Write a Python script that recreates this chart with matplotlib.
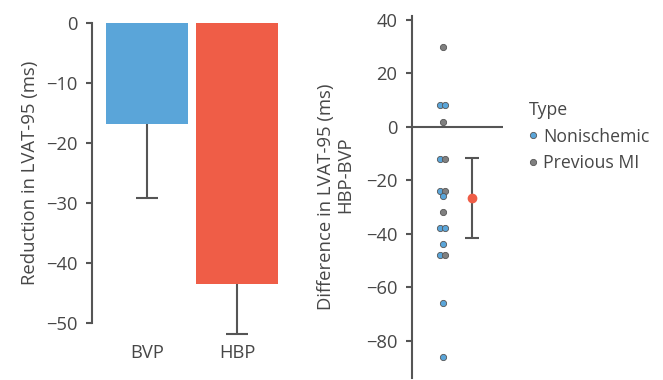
import matplotlib
matplotlib.use("Agg")
import matplotlib.pyplot as plt
from matplotlib.lines import Line2D
import numpy as np

plt.rcParams["font.family"] = ["Open Sans", "DejaVu Sans"]

# left panel: mean reduction per pacing mode
groups = ["BVP", "HBP"]
reduction = [-16.8, -43.5]
reduction_err = [12.4, 8.3]
bar_colors = ["#5aa5d9", "#ef5d47"]

# right panel: per patient difference HBP-BVP
nonischemic = [8, 8, -12, -24, -26, -38, -38, -44, -48, -66, -86]
previous_mi = [30, 2, -12, -24, -32, -48]
mean_diff = -26.5
mean_ci = 14.9

text_col = "#474747"
axis_col = "#555555"
blue = "#5aa5d9"
gray = "#808080"
red = "#ef5d47"
tick_fs = 13.2
label_fs = 13.3

fig = plt.figure(figsize=(6.63, 3.8), dpi=100)

# ---- bars
ax1 = fig.add_axes([0.1388, 0.15, 0.2866, 0.7895])
x = np.arange(len(groups))
ax1.bar(x, reduction, width=0.91, color=bar_colors, zorder=2)
for xi, v, e in zip(x, reduction, reduction_err):
    _, caps, _ = ax1.errorbar(xi, v, yerr=[[e], [0]], fmt="none", ecolor=axis_col,
                              elinewidth=1.5, capsize=8, capthick=1.5, zorder=1)
    caps[1].set_visible(False)  # no cap at the bar end
ax1.set_xlim(-0.611, 1.5)
ax1.set_ylim(-50, 0)
ax1.set_yticks([0, -10, -20, -30, -40, -50])
ax1.set_xticks(x)
ax1.set_xticklabels(groups)
ax1.set_ylabel("Reduction in LVAT-95 (ms)", color=text_col, fontsize=label_fs, labelpad=5)
for s in ["top", "right", "bottom"]:
    ax1.spines[s].set_visible(False)
ax1.spines["left"].set_color(axis_col)
ax1.spines["left"].set_linewidth(1.5)
ax1.tick_params(axis="y", colors=axis_col, labelcolor=text_col, labelsize=tick_fs,
                length=4.5, width=1.5, pad=6)
ax1.tick_params(axis="x", length=0, labelcolor=text_col, labelsize=tick_fs, pad=15)
for ln in ax1.lines + list(ax1.collections):
    ln.set_clip_on(False)

# ---- swarm of differences
ax2 = fig.add_axes([0.6214, 0.005, 0.1373, 0.953])
dx = 0.085
vals = [(v, "n") for v in nonischemic] + [(v, "p") for v in previous_mi]
for y in sorted(set(v for v, _ in vals), reverse=True):
    grp = [t for v, t in vals if v == y]
    n = len(grp)
    for i, t in enumerate(grp):
        off = (i - (n - 1) / 2) * 2 * dx
        ax2.plot(off, y, "o", ms=4.5, mfc=blue if t == "n" else gray,
                 mec="#555555", mew=0.6, zorder=3)
ax2.axhline(0, color=axis_col, lw=1.5, zorder=1)
ax2.errorbar(1, mean_diff, yerr=mean_ci, fmt="o", ms=6, color=red,
             ecolor=axis_col, elinewidth=1.5, capsize=5, capthick=1.5, zorder=3)
ax2.set_xlim(-1.05, 2.05)
ax2.set_ylim(-94, 41.5)
ax2.set_yticks([40, 20, 0, -20, -40, -60, -80])
ax2.set_xticks([])
ax2.set_ylabel("Difference in LVAT-95 (ms)", color=text_col, fontsize=label_fs, labelpad=22)
fig.text(0.5205, 0.54, "HBP-BVP", rotation=90, ha="center", va="center",
         color=text_col, fontsize=label_fs)
for s in ["top", "right", "bottom"]:
    ax2.spines[s].set_visible(False)
ax2.spines["left"].set_color(axis_col)
ax2.spines["left"].set_linewidth(1.5)
ax2.tick_params(axis="y", colors=axis_col, labelcolor=text_col, labelsize=tick_fs,
                length=4.5, width=1.5, pad=6)

handles = [
    Line2D([], [], ls="none", marker="o", ms=4.5, mfc=blue, mec="#555555", mew=0.6),
    Line2D([], [], ls="none", marker="o", ms=4.5, mfc=gray, mec="#555555", mew=0.6),
]
leg = fig.legend(handles, ["Nonischemic", "Previous MI"], title="Type",
                 loc="upper left", bbox_to_anchor=(0.797, 0.735), frameon=False,
                 fontsize=12.7, title_fontsize=12.7, handlelength=0.5, handletextpad=0.35,
                 labelspacing=0.5, borderaxespad=0, borderpad=0)
leg._legend_box.align = "left"
for t in leg.get_texts():
    t.set_color(text_col)
leg.get_title().set_color(text_col)

fig.savefig("out.png", dpi=100)
